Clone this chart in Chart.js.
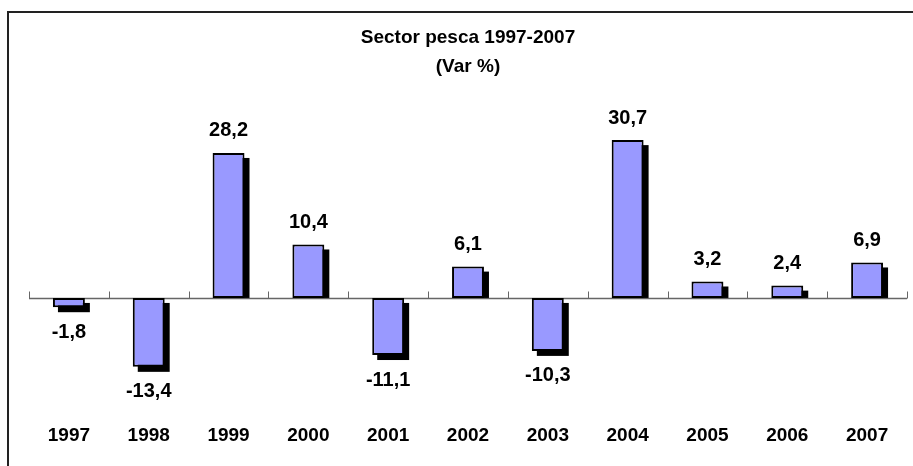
<!DOCTYPE html>
<html>
<head>
<meta charset="utf-8">
<script src="https://cdn.jsdelivr.net/npm/chart.js@4/dist/chart.umd.min.js"></script>
<style>
  html, body { margin: 0; padding: 0; background: #fff; }
  #wrap { width: 913px; height: 466px; }
</style>
</head>
<body>
<div id="wrap"><canvas id="myChart" width="913" height="466"></canvas></div>
<script>
// data
const years = ['1997', '1998', '1999', '2000', '2001', '2002', '2003', '2004', '2005', '2006', '2007'];
const varPct = [-1.8, -13.4, 28.2, 10.4, -11.1, 6.1, -10.3, 30.7, 3.2, 2.4, 6.9];
const titleLines = ['Sector pesca 1997-2007', '(Var %)'];

const FONT = 'Arial, "Liberation Sans", sans-serif';

// outer frame, only top and left edges are inside the picture
const framePlugin = {
  id: 'frame',
  beforeDraw(chart) {
    const ctx = chart.ctx;
    ctx.save();
    ctx.fillStyle = '#fff';
    ctx.fillRect(0, 0, chart.width, chart.height);
    ctx.strokeStyle = '#222';
    ctx.lineWidth = 2;
    ctx.strokeRect(8, 12, chart.width + 20, chart.height + 20);
    ctx.restore();
  }
};

// zero line with small upward ticks between the categories, then the bar shadows
const zeroAndShadowPlugin = {
  id: 'zeroAndShadow',
  beforeDatasetsDraw(chart) {
    const ctx = chart.ctx;
    const xs = chart.scales.x;
    const y0 = Math.round(chart.scales.y.getPixelForValue(0)) + 0.5;
    const area = chart.chartArea;
    ctx.save();
    ctx.strokeStyle = '#666';
    ctx.lineWidth = 1.5;
    ctx.beginPath();
    ctx.moveTo(area.left, y0);
    ctx.lineTo(area.right, y0);
    ctx.stroke();
    ctx.lineWidth = 1;
    const step = (area.right - area.left) / years.length;
    for (let i = 0; i <= years.length; i++) {
      const tx = Math.round(xs.getPixelForValue(0) - step / 2 + i * step) + 0.5;
      ctx.beginPath();
      ctx.moveTo(tx, y0);
      ctx.lineTo(tx, y0 - 7);
      ctx.stroke();
    }

    const off = 5;
    ctx.fillStyle = '#000';
    chart.getDatasetMeta(0).data.forEach((bar, i) => {
      const left = bar.x - bar.width / 2 + off;
      if (varPct[i] >= 0) {
        ctx.fillRect(left, bar.y + off, bar.width, bar.base - bar.y - off);
      } else {
        ctx.fillRect(left, bar.base + off, bar.width, bar.y - bar.base);
      }
    });
    ctx.restore();
  }
};

// value labels above / below bars
const labelPlugin = {
  id: 'valueLabels',
  afterDatasetsDraw(chart) {
    const ctx = chart.ctx;
    ctx.save();
    ctx.font = 'bold 20px ' + FONT;
    ctx.fillStyle = '#000';
    ctx.textAlign = 'center';
    ctx.textBaseline = 'middle';
    chart.getDatasetMeta(0).data.forEach((bar, i) => {
      const v = varPct[i];
      const txt = v.toFixed(1).replace('.', ',');
      const y = v >= 0 ? bar.y - 22 : bar.y + 25;
      ctx.fillText(txt, bar.x, y);
    });
    ctx.restore();
  }
};

new Chart(document.getElementById('myChart'), {
  type: 'bar',
  data: {
    labels: years,
    datasets: [{
      data: varPct,
      backgroundColor: '#9999FF',
      borderColor: '#000',
      borderWidth: 2,
      borderSkipped: false,
      barPercentage: 0.8,
      categoryPercentage: 0.5
    }]
  },
  options: {
    responsive: false,
    animation: false,
    layout: { padding: { top: 24, bottom: 11, left: 29, right: 6 } },
    plugins: {
      legend: { display: false },
      tooltip: { enabled: false },
      title: {
        display: true,
        text: titleLines,
        color: '#000',
        font: { family: FONT, size: 19, weight: 'bold', lineHeight: 1.5 },
        padding: { top: 0, bottom: 37 }
      }
    },
    scales: {
      x: {
        position: 'bottom',
        grid: { display: false, drawTicks: false },
        border: { display: false },
        ticks: {
          color: '#000',
          padding: 8,
          font: { family: FONT, size: 19, weight: 'bold' }
        }
      },
      y: {
        display: false,
        min: -23,
        max: 35
      }
    }
  },
  plugins: [framePlugin, zeroAndShadowPlugin, labelPlugin]
});
</script>
</body>
</html>
